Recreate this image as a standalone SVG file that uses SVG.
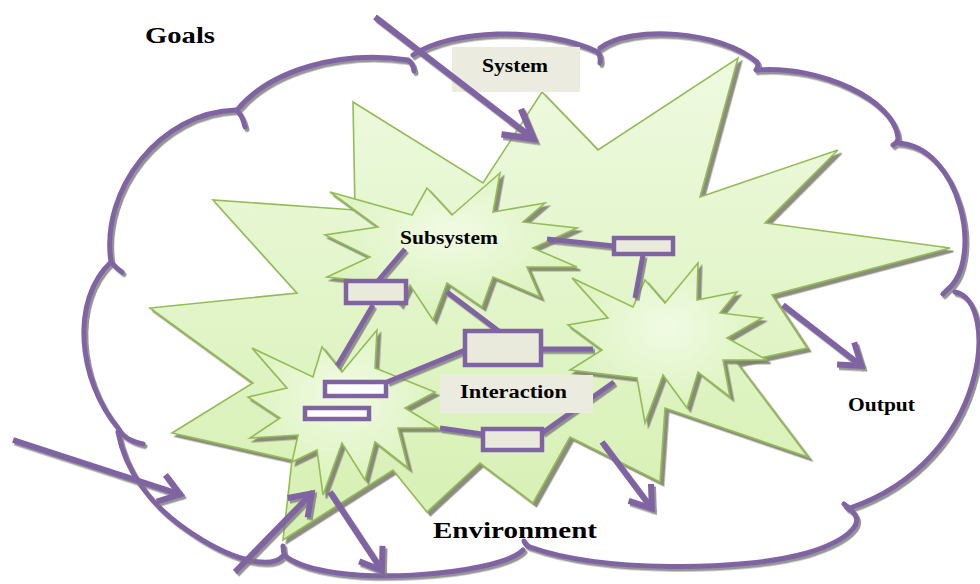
<svg xmlns="http://www.w3.org/2000/svg" width="980" height="584" viewBox="0 0 980 584">
<defs>
<style>
.cloud{fill:none;stroke:#8064a2;stroke-width:5;stroke-linecap:round;stroke-linejoin:round}
.star{stroke:#94bb55;stroke-width:1.6;stroke-linejoin:miter}
.link{fill:none;stroke:#8064a2;stroke-width:5;stroke-linecap:butt}
.arrow{fill:none;stroke:#8064a2;stroke-width:6;stroke-linecap:butt}
.box{fill:#eaeadc;stroke:#8064a2;stroke-width:4.5}
.wbox{fill:#ffffff;stroke:#8064a2;stroke-width:4.5}
.lbl{fill:#ebebdf}
.t{font-family:"Liberation Serif","Times New Roman",serif;font-weight:bold;fill:#000}
</style>
<linearGradient id="gBig" x1="0" y1="0" x2="0" y2="1">
<stop offset="0" stop-color="#eefae0"/><stop offset="1" stop-color="#d6f0b2"/>
</linearGradient>
<radialGradient id="gStar" cx="0.5" cy="0.4" r="0.6">
<stop offset="0" stop-color="#f1fbe4"/><stop offset="1" stop-color="#d9f2ba"/>
</radialGradient>
<filter id="sh" x="-10%" y="-10%" width="125%" height="125%">
<feDropShadow dx="2" dy="2.5" stdDeviation="0.7" flood-color="#7a7a7a" flood-opacity="0.8"/>
</filter>
<filter id="shStar" x="-10%" y="-10%" width="125%" height="125%">
<feDropShadow dx="3.5" dy="3.5" stdDeviation="0.6" flood-color="#7f8070" flood-opacity="0.9"/>
</filter>
<marker id="ah" markerUnits="userSpaceOnUse" markerWidth="50" markerHeight="50" viewBox="-30 -25 50 50" refX="0" refY="0" orient="auto" overflow="visible">
<path d="M-22,-14 L-2,0 L-22,14" fill="none" stroke="#8064a2" stroke-width="6" stroke-linejoin="miter"/>
</marker>
<marker id="ahL" markerUnits="userSpaceOnUse" markerWidth="50" markerHeight="50" viewBox="-40 -25 50 50" refX="0" refY="0" orient="auto" overflow="visible">
<path d="M-30,-16 L-2,0 L-30,16" fill="none" stroke="#8064a2" stroke-width="6.5" stroke-linejoin="miter"/>
</marker>
</defs>
<rect width="980" height="584" fill="#ffffff"/>

<g id="environment-cloud" filter="url(#sh)">
<path class="cloud" d="M143,444 Q124,440 118,428 C78,380 70,300 111,262 Q116,268 122,272"/>
<path class="cloud" d="M111,262 C100,190 160,112 236,110 Q242,114 245,127"/>
<path class="cloud" d="M237,110 C270,70 340,50 408,60 Q413,63 414,71"/>
<path class="cloud" d="M413,55 C450,30 540,25 598,52 Q601,56 600,63"/>
<path class="cloud" d="M600,48 C630,25 720,30 757,62 Q759,66 756,70"/>
<path class="cloud" d="M757,70 C820,65 895,100 898,138 Q898,142 893,145"/>
<path class="cloud" d="M897,143 C960,145 985,260 947,290 Q945,292 943,294"/>
<path class="cloud" d="M955,292 C1000,300 990,460 850,508 Q847,507 844,504"/>
<path class="cloud" d="M847,508 C870,520 850,540 807,553 C740,572 600,572 530,547 Q526,546 524,541"/>
<path class="cloud" d="M523,550 C500,575 330,590 285,556 Q283,552 283,546"/>
<path class="cloud" d="M283,556 C270,570 230,560 187,530 C150,505 125,470 118,432"/>
</g>

<g id="system-star" filter="url(#shStar)">
<polygon class="star" fill="url(#gBig)" points="353,102 483,183 542,92 598,150 738,58 700,197 838,150 765,223 950,248 772,295 807,348 737,363 808,457 665,408 660,482 570,437 533,503 480,463 427,512 393,470 283,540 292,460 172,433 253,383 150,308 297,293 213,200 355,210"/>
</g>

<g id="subsystem-star" filter="url(#shStar)">
<polygon class="star" fill="url(#gStar)" points="330,192 412,215 427,188 452,215 500,173 493,212 545,203 523,222 577,228 533,248 577,267 527,267 540,297 493,277 482,307 447,283 433,320 410,285 400,305 380,283 327,277 370,257 325,235 378,227"/>
</g>

<g id="right-star" filter="url(#shStar)">
<polygon class="star" fill="url(#gStar)" points="572,278 633,307 645,280 665,303 698,263 697,300 737,292 720,313 762,318 727,338 767,360 723,360 730,397 698,372 687,408 663,375 645,423 637,378 570,370 602,350 568,325 608,318"/>
</g>

<g id="left-star" filter="url(#shStar)">
<polygon class="star" fill="url(#gStar)" points="252,348 313,377 322,347 342,372 377,330 375,368 435,392 405,408 438,428 398,428 408,468 375,442 365,480 342,443 323,495 317,450 292,462 298,435 250,438 280,418 248,397 287,388"/>
</g>

<g id="connectors" filter="url(#sh)">
<line class="link" x1="405" y1="249" x2="377" y2="282"/>
<line class="link" x1="373" y1="305" x2="337" y2="366"/>
<line class="link" x1="547" y1="239" x2="614" y2="246"/>
<line class="link" x1="643" y1="255" x2="635" y2="298"/>
<line class="link" x1="447" y1="292" x2="500" y2="332"/>
<line class="link" x1="541" y1="349" x2="593" y2="349"/>
<line class="link" x1="465" y1="350" x2="387" y2="382"/>
<line class="link" x1="440" y1="428" x2="482" y2="434"/>
<line class="link" x1="542" y1="433" x2="614" y2="382"/>
</g>

<g id="box-a"><rect class="box" x="346" y="281" width="60" height="22"/></g>
<g id="box-b"><rect class="box" x="614" y="238" width="59" height="16"/></g>
<g id="box-c"><rect class="box" x="465" y="331" width="76" height="34"/></g>
<g id="box-d"><rect class="wbox" x="325" y="382" width="61" height="14"/></g>
<g id="box-e"><rect class="wbox" x="305" y="408" width="64" height="11"/></g>
<g id="box-f"><rect class="box" x="483" y="429" width="59" height="21"/></g>

<g id="system-label">
<rect class="lbl" x="452" y="47" width="128" height="45"/>
<text class="t" x="482" y="72" font-size="18" textLength="66" lengthAdjust="spacingAndGlyphs">System</text>
</g>
<g id="interaction-label">
<rect class="lbl" x="440" y="375" width="153" height="38"/>
<text class="t" x="460" y="398" font-size="18" textLength="107" lengthAdjust="spacingAndGlyphs">Interaction</text>
</g>
<g id="subsystem-label">
<text class="t" x="400" y="244" font-size="18" textLength="98" lengthAdjust="spacingAndGlyphs">Subsystem</text>
</g>
<g id="goals-label">
<text class="t" x="145" y="43" font-size="23" textLength="70" lengthAdjust="spacingAndGlyphs">Goals</text>
</g>
<g id="output-label">
<text class="t" x="848" y="411" font-size="18" textLength="67" lengthAdjust="spacingAndGlyphs">Output</text>
</g>
<g id="environment-label">
<text class="t" x="433" y="538" font-size="23" textLength="164" lengthAdjust="spacingAndGlyphs">Environment</text>
</g>

<g id="arrows" filter="url(#sh)">
<line class="arrow" x1="375" y1="17" x2="535" y2="140" marker-end="url(#ahL)"/>
<line class="arrow" x1="13" y1="440" x2="182" y2="495" marker-end="url(#ah)"/>
<line class="arrow" x1="235" y1="572" x2="313" y2="492" marker-end="url(#ah)"/>
<line class="arrow" x1="330" y1="492" x2="383" y2="572" marker-end="url(#ah)"/>
<line class="arrow" x1="602" y1="442" x2="653" y2="510" marker-end="url(#ah)"/>
<line class="arrow" x1="783" y1="305" x2="863" y2="367" marker-end="url(#ah)"/>
</g>
</svg>
